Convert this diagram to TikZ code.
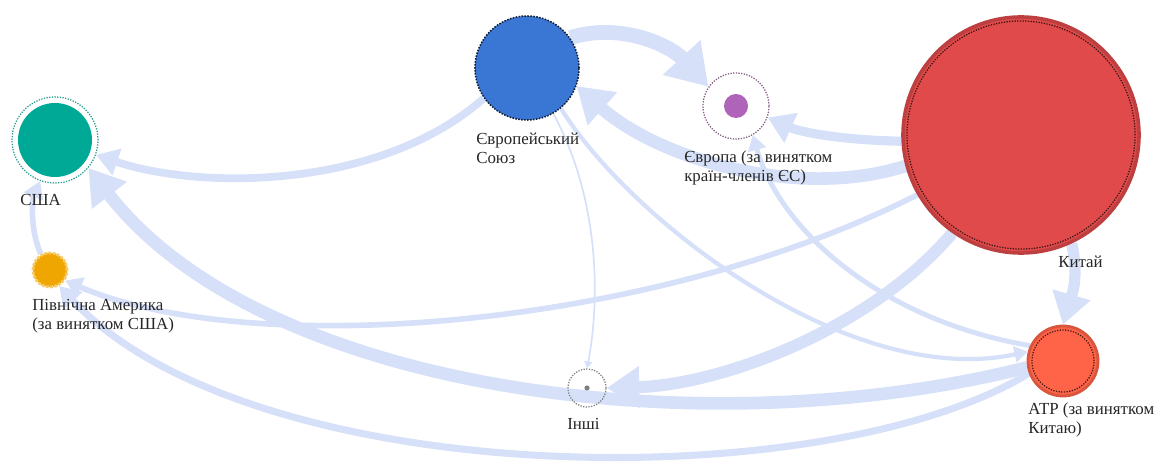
\documentclass[tikz,border=0pt]{standalone}
\usepackage{fontspec}
\setmainfont{Liberation Serif}
\usetikzlibrary{arrows.meta}
\pgfdeclarelayer{background}
\pgfsetlayers{background,main}
\begin{document}
\begin{tikzpicture}[x=0.025cm, y=-0.025cm,
    font=\fontsize{12}{13.5}\selectfont,
    region/.style={circle, inner sep=0pt},
    ring/.style={circle, inner sep=0pt, densely dotted, line width=0.9pt},
    tag/.style={anchor=north west, inner sep=0pt, align=left, text=black!85},
    flow/.style={draw=flowcolor, line width=#1,
        -{Triangle[length=2pt 2.5, width=2pt 3.1]}}]
    % Define colors
    \definecolor{flowcolor}{RGB}{214,224,248}
    \definecolor{usacolor}{RGB}{0,168,150}
    \definecolor{nacolor}{RGB}{240,166,0}
    \definecolor{eucolor}{RGB}{58,118,212}
    \definecolor{eurcolor}{RGB}{175,100,185}
    \definecolor{cncolor}{RGB}{224,74,74}
    \definecolor{atrcolor}{RGB}{255,100,72}

    \useasboundingbox (0,0) rectangle (1159,464);

    % Regions
    \node[region, fill=usacolor, minimum size=1.85cm] (usa) at (55,140) {};
    \node[ring, draw=usacolor!70!gray, minimum size=2.15cm] (usaring) at (usa) {};
    \node[region, fill=nacolor, draw=nacolor!60!white, densely dotted, line width=2pt, minimum size=0.85cm] (na) at (50,270) {};
    \node[region, fill=eucolor, draw=eucolor!25!black, densely dotted, line width=1.1pt, minimum size=2.6cm] (eu) at (527,68) {};
    \node[region, fill=eurcolor, minimum size=0.6cm] (eur) at (736,106) {};
    \node[ring, draw=gray!70!violet, minimum size=1.65cm] (eurring) at (eur) {};
    \node[region, fill=cncolor, draw=cncolor!85!black, line width=2.5pt, minimum size=5.9cm] (cn) at (1021,135) {};
    \node[ring, draw=cncolor!25!black, minimum size=5.7cm] (cnring) at (cn) {};
    \node[region, fill=atrcolor, draw=atrcolor!85!black, line width=2pt, minimum size=1.75cm] (atr) at (1063,361) {};
    \node[ring, draw=atrcolor!25!black, minimum size=1.55cm] (atrring) at (atr) {};
    \node[region, fill=gray, minimum size=0.13cm] (oth) at (587,388) {};
    \node[ring, draw=gray, minimum size=0.95cm] (othring) at (oth) {};

    % Labels
    \node[tag] (usalabel) at (20,194) {США};
    \node[tag] (nalabel) at (32,299) {Північна Америка\\(за винятком США)};
    \node[tag] (eulabel) at (476,133) {Європейський\\Союз};
    \node[tag] (eurlabel) at (684,151) {Європа (за винятком\\країн-членів ЄС)};
    \node[tag] (cnlabel) at (1058,256) {Китай};
    \node[tag] (atrlabel) at (1028,403) {АТР (за винятком\\Китаю)};
    \node[tag] (othlabel) at (567,418) {Інші};

    % Flows
    \begin{pgfonlayer}{background}
    \draw[flow=10.5pt] (eu.35) .. controls (620,22) and (670,45) .. (eurring.145);
    \draw[flow=9pt] (cn.195) .. controls (800,200) and (660,160) .. (eu.-20);
    \draw[flow=6.5pt] (cn.183) .. controls (840,140) and (800,132) .. (eurring.-20);
    \draw[flow=5.5pt] (eu.215) .. controls (380,190) and (200,190) .. (usaring.-20);
    \draw[flow=9pt] (atr.190) .. controls (700,450) and (260,390) .. (usaring.-40);
    \draw[flow=8.5pt] (cn.235) .. controls (870,330) and (720,385) .. (othring.east);
    \draw[flow=8pt] (cn.-65) .. controls (1080,280) and (1070,300) .. (atr.north);
    \draw[flow=4pt] (cn.210) .. controls (650,330) and (250,360) .. (na.-35);
    \draw[flow=5pt] (atr.200) .. controls (820,500) and (250,490) .. (na.-60);
    \draw[flow=4pt] (na.120) .. controls (30,230) and (32,200) .. (usaring.-110);
    \draw[flow=1.2pt] (eu.-60) .. controls (600,200) and (600,300) .. (othring.north);
    \draw[flow=3pt] (eu.-50) .. controls (630,220) and (850,390) .. (atr.165);
    \draw[flow=3.5pt] (atr.155) .. controls (880,320) and (780,230) .. (eurring.-60);
    \end{pgfonlayer}
\end{tikzpicture}
\end{document}
